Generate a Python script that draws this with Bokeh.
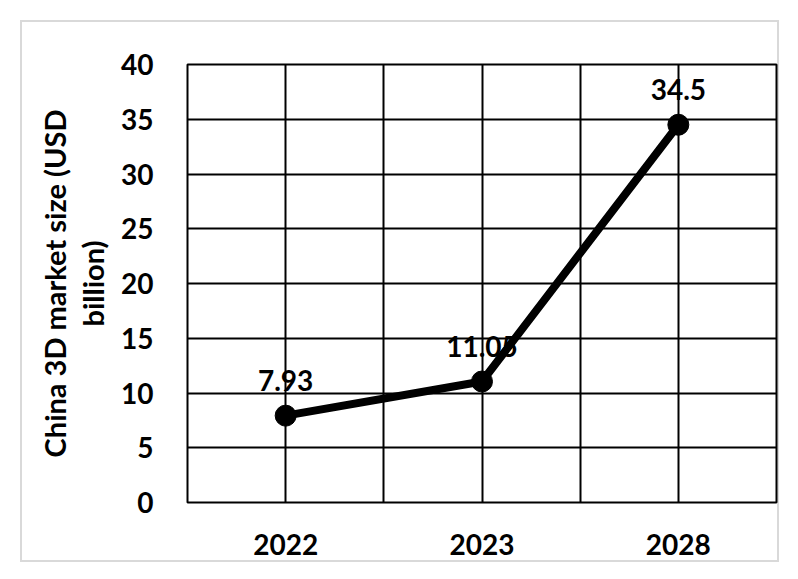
from bokeh.plotting import figure
from bokeh.models import FixedTicker, ColumnDataSource, Grid, Range1d
from bokeh.core.properties import value
from bokeh.embed import file_html
from bokeh.resources import INLINE

years = ["2022", "2023", "2028"]
market_size = [7.93, 11.05, 34.5]
value_labels = ["7.93", "11.05", "34.5"]
y_ticks = [0, 5, 10, 15, 20, 25, 30, 35, 40]
y_title = "China 3D market size (USD\nbillion)"

FONT = "Lato"
n = len(years)
x_pos = list(range(n))
src = ColumnDataSource(dict(x=x_pos, y=market_size, label=value_labels))

# canvas: page x 14..785, y 14..568 ; grey chart border drawn as an inset outline
p = figure(width=771, height=554,
           x_range=Range1d(-0.5, n - 0.5), y_range=Range1d(0, 40),
           output_backend="svg", toolbar_location=None,
           margin=(14, 0, 0, 14),
           styles={"outline": "2px solid #d9d9d9", "outline-offset": "-8px"},
           min_border_left=173, min_border_right=9,
           min_border_top=50, min_border_bottom=66)

p.background_fill_color = "white"
p.border_fill_alpha = 0
p.outline_line_color = "black"
p.outline_line_width = 2

# grids
p.xgrid.visible = False
p.ygrid.visible = False
half_steps = [i * 0.5 - 0.5 for i in range(2 * n + 1)]
p.add_layout(Grid(dimension=0, ticker=FixedTicker(ticks=half_steps),
                  grid_line_color="black", grid_line_width=2))
p.add_layout(Grid(dimension=1, ticker=FixedTicker(ticks=y_ticks),
                  grid_line_color="black", grid_line_width=2))

# axes
for ax in (p.xaxis[0], p.yaxis[0]):
    ax.axis_line_color = None
    ax.major_tick_line_color = None
    ax.minor_tick_line_color = None
    ax.major_tick_out = 0
    ax.major_tick_in = 0
    ax.minor_tick_out = 0
    ax.major_label_text_font = FONT
    ax.major_label_text_font_style = "bold"
    ax.major_label_text_font_size = "28px"
    ax.major_label_text_color = "black"

p.xaxis.ticker = FixedTicker(ticks=x_pos)
p.xaxis.major_label_overrides = {i: y for i, y in zip(x_pos, years)}
p.xaxis.major_label_standoff = 31
p.yaxis.ticker = FixedTicker(ticks=y_ticks)
p.yaxis.major_label_standoff = 34
p.yaxis.axis_label = y_title
p.yaxis.axis_label_text_font = FONT
p.yaxis.axis_label_text_font_style = "bold"
p.yaxis.axis_label_text_font_size = "29px"
p.yaxis.axis_label_text_line_height = 1.1
p.yaxis.axis_label_text_color = "black"
p.yaxis.axis_label_standoff = 8

# line and markers
p.line("x", "y", source=src, line_width=8, line_color="black")
p.scatter("x", "y", source=src, size=21, fill_color="black", line_color="black")

# data labels
p.text("x", "y", text="label", source=src, y_offset=-35,
       text_align="center", text_baseline="alphabetic",
       text_font=value(FONT), text_font_style="bold",
       text_font_size="28px", text_color="black")

open("out.html", "w").write(file_html(p, INLINE))
